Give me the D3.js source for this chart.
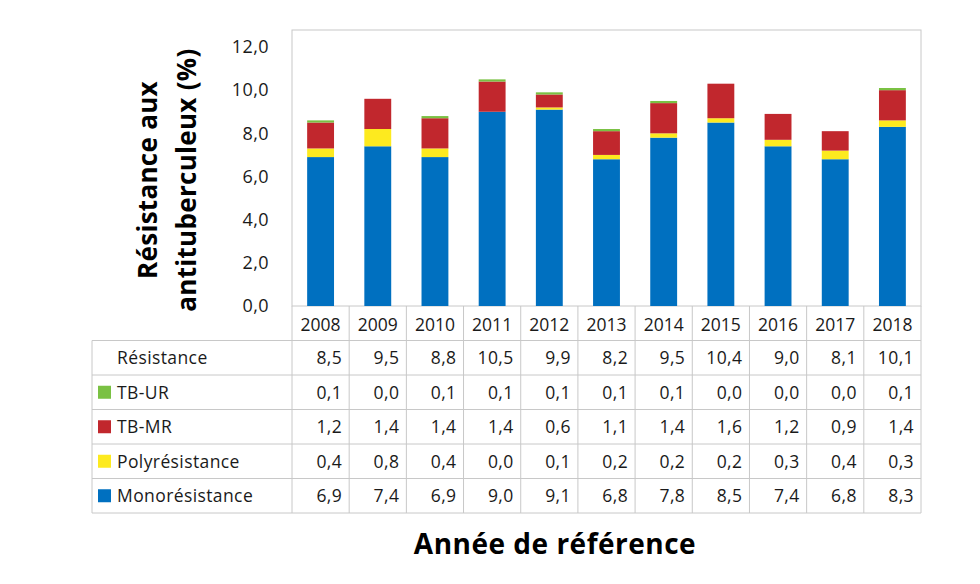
<!DOCTYPE html>
<html lang="fr">
<head>
  <meta charset="UTF-8">
  <title>Résistance aux antituberculeux</title>
  <script src="https://d3js.org/d3.v7.min.js"></script>
  <style>
    body { margin: 0; font-family: "Open Sans", Lato, sans-serif; background: #fff; }
    .grid line { stroke: #c8c8c8; }
  </style>
</head>
<body>
  <div id="chart"></div>
  <script>
    const years = ["2008","2009","2010","2011","2012","2013","2014","2015","2016","2017","2018"];
    const resistance = [8.5, 9.5, 8.8, 10.5, 9.9, 8.2, 9.5, 10.4, 9.0, 8.1, 10.1];
    const tbUR  = [0.1, 0.0, 0.1, 0.1, 0.1, 0.1, 0.1, 0.0, 0.0, 0.0, 0.1];
    const tbMR  = [1.2, 1.4, 1.4, 1.4, 0.6, 1.1, 1.4, 1.6, 1.2, 0.9, 1.4];
    const poly  = [0.4, 0.8, 0.4, 0.0, 0.1, 0.2, 0.2, 0.2, 0.3, 0.4, 0.3];
    const mono  = [6.9, 7.4, 6.9, 9.0, 9.1, 6.8, 7.8, 8.5, 7.4, 6.8, 8.3];
    const yTicks = [0, 2, 4, 6, 8, 10, 12];

    // bottom to top stacking order
    const series = [
      {key: "mono", name: "Monorésistance", values: mono, color: "#0070c0"},
      {key: "poly", name: "Polyrésistance", values: poly, color: "#fdea1f"},
      {key: "mr",   name: "TB-MR",          values: tbMR, color: "#c1272d"},
      {key: "ur",   name: "TB-UR",          values: tbUR, color: "#7ac143"}
    ];

    const W = 980, H = 584;
    const plot = {left: 292, right: 921, top: 30, bottom: 306};
    const tableLeft = 92, rowH = 34.5;
    const font = "'Open Sans', sans-serif";
    const txtSize = "17.5px", txtSpacing = "0.4px";

    const fr = d3.formatLocale({decimal: ",", thousands: " ", grouping: [3], currency: ["", "€"]});
    const fmt = fr.format(".1f");

    const svg = d3.select("#chart").append("svg")
      .attr("width", W).attr("height", H)
      .style("font-family", font);

    const x = d3.scaleBand().domain(years)
      .range([plot.left, plot.right])
      .paddingInner(0.53).paddingOuter(0.265);
    const xCell = d3.scaleBand().domain(years).range([plot.left, plot.right]);
    const y = d3.scaleLinear().domain([0, 12]).range([plot.bottom, 47]);

    // plot border
    svg.append("rect")
      .attr("x", plot.left).attr("y", plot.top)
      .attr("width", plot.right - plot.left).attr("height", plot.bottom - plot.top)
      .attr("fill", "none").attr("stroke", "#c8c8c8");

    // y axis
    const yAxis = svg.append("g")
      .attr("transform", `translate(${plot.left - 20},0)`)
      .call(d3.axisLeft(y).tickValues(yTicks).tickSize(0).tickFormat(fmt));
    yAxis.select(".domain").remove();
    yAxis.selectAll("text")
      .style("font-family", font)
      .style("font-size", "18px")
      .style("letter-spacing", txtSpacing)
      .attr("fill", "#1a1a1a");

    // stacked bars
    const stackData = years.map((yr, i) => {
      const o = {year: yr};
      series.forEach(s => o[s.key] = s.values[i]);
      return o;
    });
    const stack = d3.stack().keys(series.map(s => s.key))(stackData);

    svg.append("g").selectAll("g")
      .data(stack)
      .join("g")
      .attr("fill", (d, i) => series[i].color)
      .selectAll("rect")
      .data(d => d)
      .join("rect")
      .attr("x", d => x(d.data.year))
      .attr("width", x.bandwidth())
      .attr("y", d => y(d[1]))
      .attr("height", d => y(d[0]) - y(d[1]));

    // data table
    const rows = [
      {name: "Résistance", values: resistance, color: null},
      {name: "TB-UR", values: tbUR, color: "#7ac143"},
      {name: "TB-MR", values: tbMR, color: "#c1272d"},
      {name: "Polyrésistance", values: poly, color: "#fdea1f"},
      {name: "Monorésistance", values: mono, color: "#0070c0"}
    ];
    const headTop = plot.bottom;
    const bodyTop = headTop + rowH;
    const bodyBottom = bodyTop + rowH * rows.length;

    const grid = svg.append("g").attr("class", "grid");
    // horizontal lines
    rows.forEach((r, i) => {
      grid.append("line")
        .attr("x1", tableLeft).attr("x2", plot.right)
        .attr("y1", bodyTop + i * rowH).attr("y2", bodyTop + i * rowH);
    });
    grid.append("line")
      .attr("x1", tableLeft).attr("x2", plot.right)
      .attr("y1", bodyBottom).attr("y2", bodyBottom);
    // vertical lines
    years.forEach(yr => {
      grid.append("line")
        .attr("x1", xCell(yr)).attr("x2", xCell(yr))
        .attr("y1", headTop).attr("y2", bodyBottom);
    });
    grid.append("line")
      .attr("x1", plot.right).attr("x2", plot.right)
      .attr("y1", headTop).attr("y2", bodyBottom);
    grid.append("line")
      .attr("x1", tableLeft).attr("x2", tableLeft)
      .attr("y1", bodyTop).attr("y2", bodyBottom);

    // header years
    svg.append("g").selectAll("text")
      .data(years)
      .join("text")
      .attr("x", d => xCell(d) + xCell.bandwidth() / 2)
      .attr("y", headTop + rowH / 2 + 1)
      .attr("dy", "0.36em")
      .attr("text-anchor", "middle")
      .attr("fill", "#1a1a1a")
      .style("font-size", txtSize)
      .text(d => d);

    // body rows
    const rowG = svg.append("g").selectAll("g")
      .data(rows)
      .join("g")
      .attr("transform", (d, i) => `translate(0,${bodyTop + i * rowH + rowH / 2})`);

    rowG.filter(d => d.color)
      .append("rect")
      .attr("x", 98).attr("y", -6.5)
      .attr("width", 13).attr("height", 13)
      .attr("fill", d => d.color);

    rowG.append("text")
      .attr("x", 117).attr("dy", "0.36em")
      .attr("fill", "#1a1a1a")
      .style("font-size", txtSize)
      .style("letter-spacing", txtSpacing)
      .text(d => d.name);

    rowG.selectAll(".val")
      .data(d => d.values.map((v, i) => ({v, yr: years[i]})))
      .join("text")
      .attr("class", "val")
      .attr("x", d => xCell(d.yr) + xCell.bandwidth() - 7)
      .attr("dy", "0.36em")
      .attr("text-anchor", "end")
      .attr("fill", "#1a1a1a")
      .style("font-size", txtSize)
      .style("letter-spacing", txtSpacing)
      .text(d => fmt(d.v));

    // axis titles
    const yTitle = svg.append("text")
      .attr("transform", "translate(165,180) rotate(-90)")
      .attr("text-anchor", "middle")
      .style("font-size", "26px")
      .style("font-weight", "bold")
      .style("letter-spacing", "0.3px")
      .attr("fill", "#000");
    yTitle.append("tspan").attr("x", 0).attr("dy", "-0.3em").text("Résistance aux");
    yTitle.append("tspan").attr("x", 0).attr("dy", "1.5em").text("antituberculeux (%)");

    svg.append("text")
      .attr("x", 555).attr("y", 554)
      .attr("text-anchor", "middle")
      .style("font-size", "28px")
      .style("font-weight", "bold")
      .style("letter-spacing", "0.5px")
      .attr("fill", "#000")
      .text("Année de référence");
  </script>
</body>
</html>
